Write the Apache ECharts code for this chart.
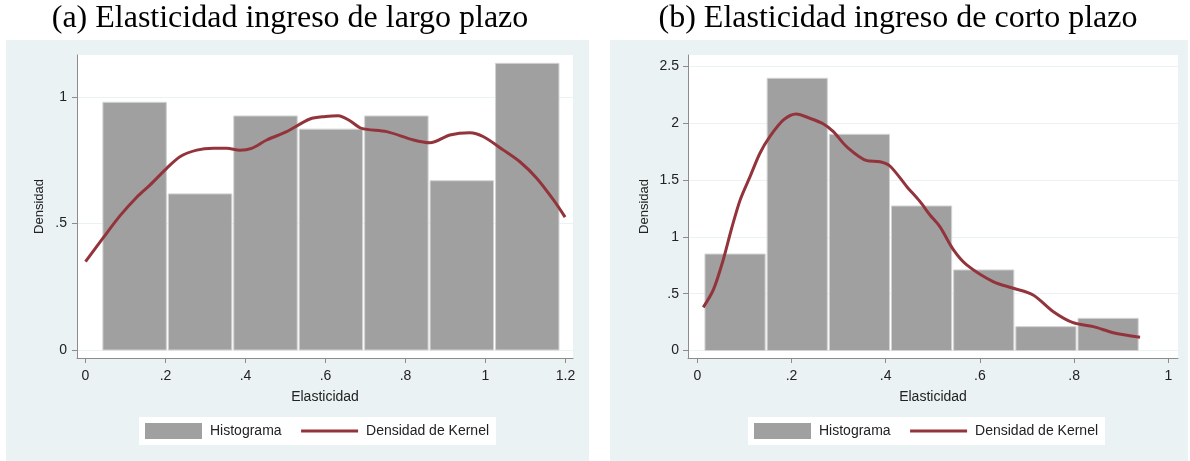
<!DOCTYPE html>
<html><head><meta charset="utf-8">
<script src="https://cdn.jsdelivr.net/npm/echarts@6/dist/echarts.min.js"></script>
<style>html,body{margin:0;padding:0;background:#fff}#c{width:1190px;height:461px}</style>
</head><body><div id="c"></div>
<script>
// ---------- data ----------
const titleA = '(a) Elasticidad ingreso de largo plazo';
const titleB = '(b) Elasticidad ingreso de corto plazo';
const xAxisName = 'Elasticidad';
const yAxisName = 'Densidad';
const seriesNames = ['Histograma', 'Densidad de Kernel'];

const xTicksA = [0, 0.2, 0.4, 0.6, 0.8, 1, 1.2];
const yTicksA = [0, 0.5, 1];
const xTicksB = [0, 0.2, 0.4, 0.6, 0.8, 1];
const yTicksB = [0, 0.5, 1, 1.5, 2, 2.5];

const histA_edges = [0.041, 0.2046, 0.3682, 0.5318, 0.6954, 0.859, 1.0226, 1.1862];
const histA_heights = [0.979, 0.617, 0.925, 0.873, 0.925, 0.669, 1.133];

const histB_edges = [0.0142, 0.1462, 0.2782, 0.4102, 0.5422, 0.6742, 0.8062, 0.9382];
const histB_heights = [0.849, 2.396, 1.903, 1.272, 0.709, 0.210, 0.283];

const kernelA_x = [0, 0.045, 0.086, 0.128, 0.161, 0.203, 0.236, 0.278, 0.320, 0.353, 0.386, 0.415, 0.453, 0.503, 0.561, 0.600, 0.632, 0.661, 0.690, 0.753, 0.820, 0.861, 0.911, 0.961, 0.995, 1.045, 1.086, 1.128, 1.170, 1.199];
const kernelA_y = [0.349, 0.445, 0.530, 0.604, 0.652, 0.718, 0.764, 0.790, 0.797, 0.797, 0.790, 0.797, 0.830, 0.863, 0.913, 0.923, 0.926, 0.906, 0.876, 0.863, 0.830, 0.819, 0.850, 0.859, 0.843, 0.790, 0.744, 0.679, 0.593, 0.525];

const kernelB_x = [0.0127, 0.034, 0.055, 0.073, 0.091, 0.112, 0.133, 0.154, 0.183, 0.210, 0.239, 0.268, 0.289, 0.317, 0.360, 0.388, 0.409, 0.445, 0.473, 0.494, 0.515, 0.544, 0.572, 0.628, 0.671, 0.713, 0.756, 0.798, 0.841, 0.883, 0.940];
const kernelB_y = [0.380, 0.533, 0.797, 1.076, 1.325, 1.530, 1.736, 1.882, 2.029, 2.082, 2.044, 1.994, 1.926, 1.794, 1.671, 1.662, 1.624, 1.442, 1.310, 1.193, 1.090, 0.885, 0.753, 0.606, 0.548, 0.489, 0.342, 0.245, 0.210, 0.157, 0.116];

// ---------- build ----------
const FONT = 'Liberation Sans';
const BAR = '#a0a0a0';
const LINE = '#93343c';
const AXIS = '#8c8c8c';
const BG = '#eaf2f3';

function fmt(v) {
  const s = String(+Number(v).toFixed(3));
  return s.replace(/^0\./, '.');
}
function histData(edges, h) {
  return h.map((v, i) => [edges[i], edges[i + 1], v]);
}
function zip(xs, ys) { return xs.map((x, i) => [x, ys[i]]); }

function xAxisCfg(gi, min, max, ticks, gap) {
  return {
    type: 'value', gridIndex: gi, min: min, max: max,
    name: xAxisName, nameLocation: 'middle', nameGap: gap,
    nameTextStyle: { fontFamily: FONT, fontSize: 14, color: '#222' },
    axisLine: { show: true, onZero: false, lineStyle: { color: AXIS, width: 1 } },
    axisTick: { show: true, length: 5, customValues: ticks, lineStyle: { color: AXIS } },
    axisLabel: { customValues: ticks, formatter: fmt, margin: 11, fontFamily: FONT, fontSize: 14, color: '#222' },
    splitLine: { show: false }
  };
}
function yAxisCfg(gi, min, max, ticks, gap, margin) {
  return {
    type: 'value', gridIndex: gi, min: min, max: max,
    name: yAxisName, nameLocation: 'middle', nameGap: gap,
    nameTextStyle: { fontFamily: FONT, fontSize: 13, color: '#222' },
    axisLine: { show: true, onZero: false, lineStyle: { color: AXIS, width: 1 } },
    axisTick: { show: true, length: 5, customValues: ticks, lineStyle: { color: AXIS } },
    axisLabel: { customValues: ticks, formatter: fmt, margin: margin, fontFamily: FONT, fontSize: 14, color: '#222' },
    splitLine: { show: true, lineStyle: { color: BG, width: 1 } }
  };
}
function histSeries(idx, data) {
  return {
    name: seriesNames[0], type: 'custom', xAxisIndex: idx, yAxisIndex: idx,
    itemStyle: { color: BAR },
    encode: { x: [0, 1], y: 2 },
    data: data,
    z: 2,
    renderItem: function (params, api) {
      const p0 = api.coord([api.value(0), 0]);
      const p1 = api.coord([api.value(1), api.value(2)]);
      return {
        type: 'rect',
        shape: { x: p0[0] + 1, y: p1[1], width: p1[0] - p0[0] - 2, height: p0[1] - p1[1] },
        style: { fill: BAR, stroke: '#d2d2d2', lineWidth: 1 }
      };
    }
  };
}
function kernelSeries(idx, data) {
  return {
    name: seriesNames[1], type: 'line', xAxisIndex: idx, yAxisIndex: idx,
    data: data, symbol: 'none', smooth: 0.3, z: 3,
    lineStyle: { color: LINE, width: 3 }, itemStyle: { color: LINE }
  };
}
function legendCfg(left) {
  return {
    left: left, top: 417, orient: 'horizontal',
    backgroundColor: '#fff', padding: [6, 7, 6, 6],
    itemWidth: 57, itemHeight: 16, itemGap: 18,
    selectedMode: false,
    textStyle: { fontFamily: FONT, fontSize: 14, color: '#222', padding: [0, 0, 0, 3] },
    data: [
      { name: seriesNames[0], icon: 'rect' },
      { name: seriesNames[1], itemStyle: { opacity: 0 }, lineStyle: { width: 3, color: LINE } }
    ]
  };
}

const option = {
  animation: false,
  backgroundColor: '#fff',
  graphic: [
    { type: 'rect', z: -100, silent: true, shape: { x: 6, y: 40, width: 583, height: 421 }, style: { fill: BG } },
    { type: 'rect', z: -100, silent: true, shape: { x: 610, y: 40, width: 578, height: 421 }, style: { fill: BG } },
    { type: 'rect', z: -99, silent: true, shape: { x: 77, y: 55, width: 496, height: 303 }, style: { fill: '#fff' } },
    { type: 'rect', z: -99, silent: true, shape: { x: 688, y: 55, width: 490, height: 303 }, style: { fill: '#fff' } }
  ],
  title: [
    { text: titleA, left: 290, top: 3, textAlign: 'center', padding: 0,
      textStyle: { fontFamily: 'Liberation Serif', fontSize: 32, fontWeight: 'normal', color: '#000' } },
    { text: titleB, left: 898, top: 3, textAlign: 'center', padding: 0,
      textStyle: { fontFamily: 'Liberation Serif', fontSize: 32, fontWeight: 'normal', color: '#000' } }
  ],
  legend: [legendCfg(139), legendCfg(748)],
  grid: [
    { left: 77, top: 55, width: 496, height: 303, containLabel: false },
    { left: 688, top: 55, width: 490, height: 303, containLabel: false }
  ],
  xAxis: [
    xAxisCfg(0, -0.02125, 1.21875, xTicksA, 32),
    xAxisCfg(1, -0.0197, 1.0206, xTicksB, 32)
  ],
  yAxis: [
    yAxisCfg(0, -0.0316, 1.166, yTicksA, 31, 10),
    yAxisCfg(1, -0.066, 2.601, yTicksB, 37, 9)
  ],
  series: [
    histSeries(0, histData(histA_edges, histA_heights)),
    kernelSeries(0, zip(kernelA_x, kernelA_y)),
    histSeries(1, histData(histB_edges, histB_heights)),
    kernelSeries(1, zip(kernelB_x, kernelB_y))
  ]
};

const chart = echarts.init(document.getElementById('c'), null, { renderer: 'canvas' });
chart.setOption(option);
</script>
</body></html>
